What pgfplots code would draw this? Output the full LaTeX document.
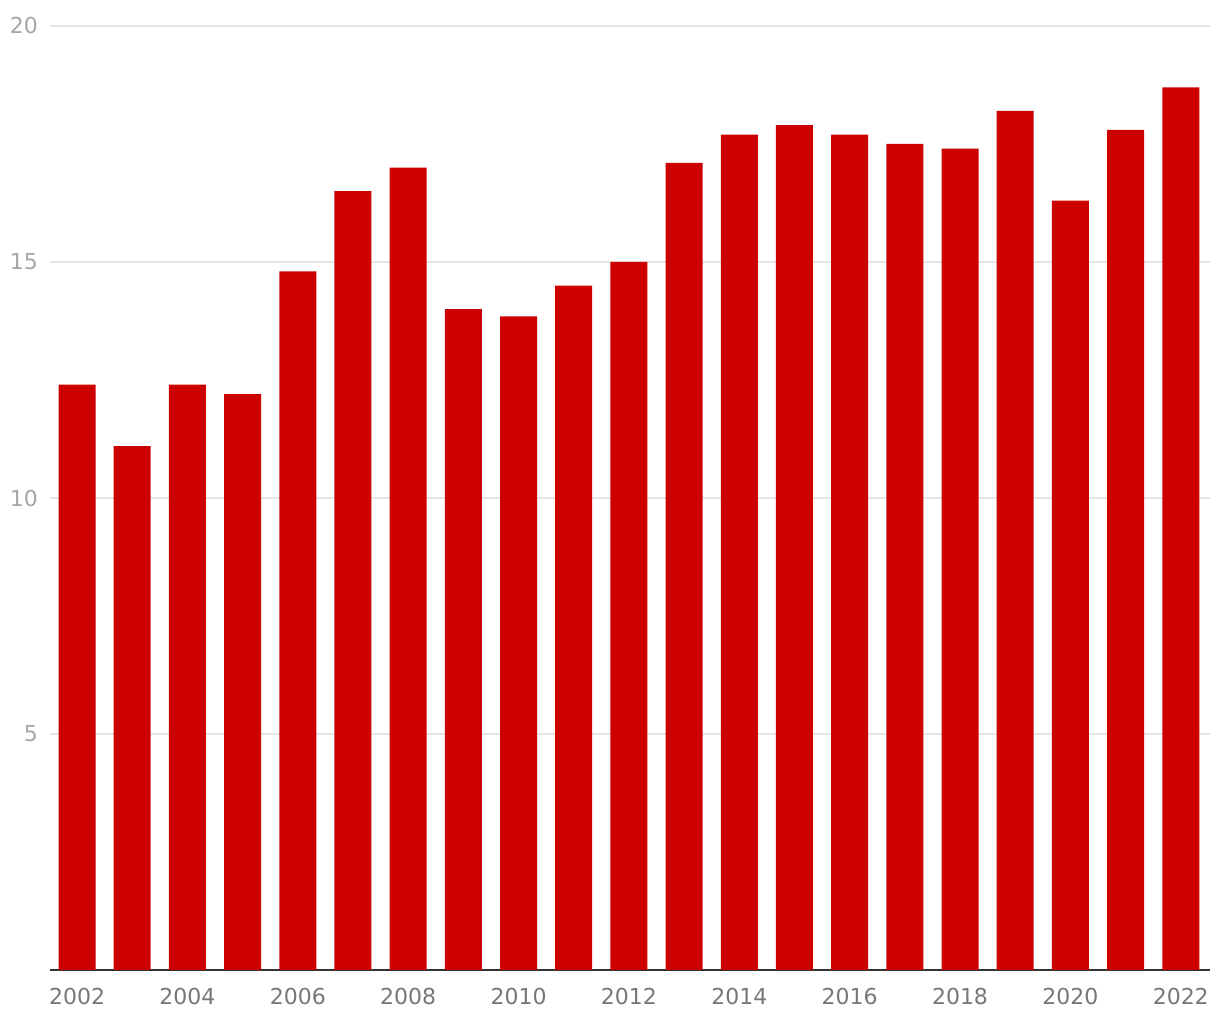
\documentclass[border=0pt]{standalone}
\usepackage{pgfplots}
\pgfplotsset{compat=1.18}
\usepackage{fontspec}
\setmainfont{DejaVu Sans}
\definecolor{barred}{HTML}{CC0000}
\definecolor{gridgray}{HTML}{E5E5E5}
\definecolor{ylab}{HTML}{A6A6A6}
\definecolor{xlab}{HTML}{777777}
\definecolor{axisline}{HTML}{333333}
\begin{document}
\begin{tikzpicture}
\begin{axis}[
  name=ax,
  scale only axis,
  width=870pt, height=708pt,
  xmin=2001.51, xmax=2022.53,
  ymin=0, ymax=20,
  axis x line*=bottom,
  axis y line*=left,
  y axis line style={draw=none},
  x axis line style={draw=axisline, line width=1.5pt, -},
  xtick={2002,2004,...,2022},
  xticklabels={2002,2004,2006,2008,2010,2012,2014,2016,2018,2020,2022},
  ytick={5,10,15,20},
  major tick length=0pt,
  ymajorgrids,
  grid style={gridgray, line width=0.9pt},
  tick label style={font=\fontsize{16.5}{18}\selectfont},
  xticklabel style={xlab, yshift=-10pt},
  yticklabel style={ylab, anchor=east},
  every y tick label/.append style={xshift=-5.5pt},
  /pgf/number format/assume math mode=true,
  clip=false,
]
\addplot[ybar, bar width=27.75pt, fill=barred, draw=none] coordinates {
(2002,12.4) (2003,11.1) (2004,12.4) (2005,12.2) (2006,14.8) (2007,16.5)
(2008,17.0) (2009,14.0) (2010,13.85) (2011,14.5) (2012,15.0) (2013,17.1)
(2014,17.7) (2015,17.9) (2016,17.7) (2017,17.5) (2018,17.4) (2019,18.2)
(2020,16.3) (2021,17.8) (2022,18.7)
};
\end{axis}
\path[use as bounding box] ([shift={(-37.5pt,-37.5pt)}]ax.south west) rectangle ([shift={(7.5pt,19.5pt)}]ax.north east);
\end{tikzpicture}
\end{document}
